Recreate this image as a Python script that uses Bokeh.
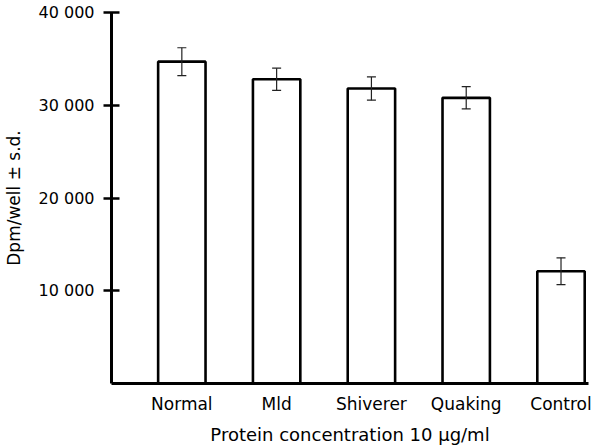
from bokeh.plotting import figure
from bokeh.models import Range1d, FixedTicker, ColumnDataSource, Whisker, TeeHead
from bokeh.embed import file_html
from bokeh.resources import INLINE

categories = ["Normal", "Mld", "Shiverer", "Quaking", "Control"]
values = [34700, 32800, 31800, 30800, 12100]
sds = [1500, 1200, 1250, 1200, 1450]
y_ticks = [10000, 20000, 30000, 40000]
y_tick_labels = ["10 000", "20 000", "30 000", "40 000"]

xs = list(range(len(categories)))
src = ColumnDataSource(dict(
    x=xs, top=values,
    upper=[v + s for v, s in zip(values, sds)],
    lower=[v - s for v, s in zip(values, sds)],
))

FONT = "DejaVu Sans"

p = figure(width=592, height=447, output_backend="svg", toolbar_location=None,
           x_range=Range1d(-0.742, 4.29), y_range=Range1d(0, 40000),
           min_border_left=110, min_border_top=12, min_border_right=4,
           min_border_bottom=62)
p.outline_line_color = None
p.xgrid.visible = False
p.ygrid.visible = False
p.background_fill_color = "white"

p.vbar(x="x", top="top", bottom=0, width=0.5, source=src,
       fill_color="white", line_color="black", line_width=2.6)

w = Whisker(base="x", upper="upper", lower="lower", source=src,
            line_color="#222222", line_width=1.2, level="overlay",
            upper_head=TeeHead(size=9, line_color="#222222", line_width=1.2),
            lower_head=TeeHead(size=9, line_color="#222222", line_width=1.2))
p.add_layout(w)

# y axis
ya = p.yaxis[0]
ya.ticker = FixedTicker(ticks=y_ticks)
ya.major_label_overrides = {t: l for t, l in zip(y_ticks, y_tick_labels)}
ya.minor_tick_line_color = None
ya.major_tick_in = 8
ya.major_tick_out = 8
ya.major_tick_line_width = 2.5
ya.axis_line_width = 3
ya.major_label_standoff = 9
ya.major_label_text_font = FONT
ya.major_label_text_font_size = "16px"
ya.major_label_text_color = "black"
ya.axis_label = "Dpm/well ± s.d."
ya.axis_label_text_font = FONT
ya.axis_label_text_font_size = "17px"
ya.axis_label_text_font_style = "normal"
ya.axis_label_text_color = "black"
ya.axis_label_standoff = 12

# x axis
xa = p.xaxis[0]
xa.ticker = FixedTicker(ticks=xs)
xa.major_label_overrides = {i: c for i, c in zip(xs, categories)}
xa.minor_tick_line_color = None
xa.major_tick_line_color = None
xa.major_tick_in = 0
xa.major_tick_out = 0
xa.axis_line_width = 3
xa.major_label_standoff = 10
xa.major_label_text_font = FONT
xa.major_label_text_font_size = "17px"
xa.major_label_text_color = "black"
xa.axis_label = "Protein concentration 10 µg/ml"
xa.axis_label_text_font = FONT
xa.axis_label_text_font_size = "18px"
xa.axis_label_text_font_style = "normal"
xa.axis_label_text_color = "black"
xa.axis_label_standoff = 7

open("out.html", "w").write(file_html(p, INLINE))
